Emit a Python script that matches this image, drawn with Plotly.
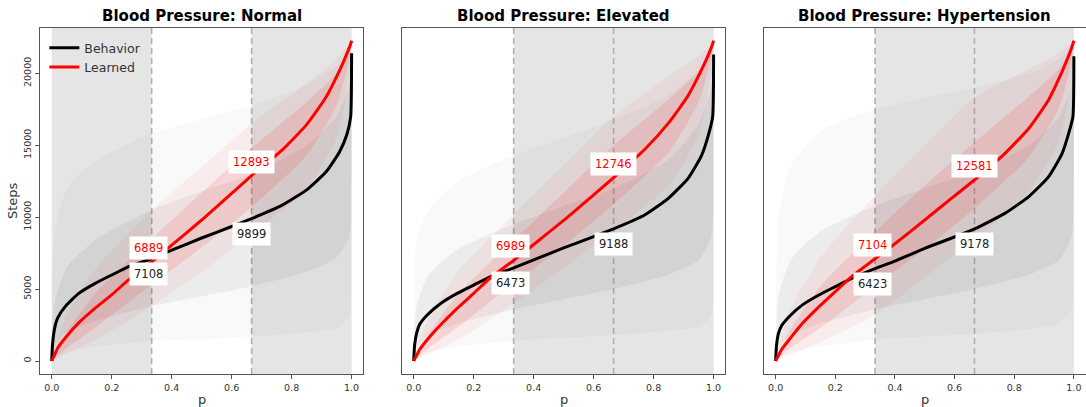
import plotly.graph_objects as go

# ---------------- data ----------------
P_MAIN = [0, 0.003, 0.01, 0.02, 0.045, 0.09, 0.145, 0.2, 0.255, 1/3, 0.4, 0.5, 0.6, 2/3,
          0.77, 0.85, 0.915, 0.96, 0.985, 0.997, 1.0]

BEH_NORMAL = [0, 1200, 2300, 3000, 3780, 4700, 5400, 5980, 6550, 7108, 7700, 8550, 9350, 9899,
              10850, 11900, 13150, 14550, 15800, 17000, 21400]
LRN_NORMAL = [0, 150, 450, 900, 1600, 2650, 3680, 4600, 5620, 6889, 8050, 9800, 11650, 12893,
              14700, 16430, 18350, 20200, 21400, 22050, 22270]

BEH_ELEVATED = [0, 1100, 1950, 2550, 3200, 4000, 4700, 5280, 5850, 6473, 7030, 7860, 8650, 9188,
                10150, 11330, 12700, 14300, 15900, 17000, 21300]
LRN_ELEVATED = [0, 130, 400, 800, 1480, 2520, 3660, 4700, 5770, 6989, 8100, 9770, 11550, 12746,
                14700, 16550, 18450, 20250, 21400, 22050, 22270]

BEH_HYPER = [0, 1100, 1950, 2450, 3080, 3900, 4590, 5170, 5750, 6423, 6950, 7830, 8620, 9178,
             10280, 11450, 12800, 14400, 16000, 17000, 21190]
LRN_HYPER = [0, 130, 400, 800, 1470, 2620, 3760, 4820, 5860, 7104, 8150, 9800, 11480, 12581,
             14450, 16200, 18150, 20100, 21350, 22050, 22270]

# envelope of the faint individual curves
P_BG = [0, 0.01, 0.05, 0.15, 1/3, 0.5, 2/3, 0.85, 0.95, 0.99, 0.997, 1.0]

BEH_NORMAL_OUT_LO = [0, 200, 600, 1000, 1400, 1500, 1700, 2000, 2300, 3000, 3500, 9000]
BEH_NORMAL_OUT_HI = [0, 9000, 12000, 14000, 15800, 16800, 17800, 19200, 20500, 21500, 21900, 22300]
BEH_NORMAL_IN_LO = [0, 1000, 2000, 2800, 3800, 4500, 5200, 6200, 7200, 8500, 9500, 14000]
BEH_NORMAL_IN_HI = [0, 4000, 6500, 8500, 10500, 11800, 13000, 15000, 17000, 19000, 20000, 22000]
LRN_NORMAL_OUT_LO = [0, 100, 500, 1500, 3800, 6200, 8800, 12000, 15500, 19500, 21500, 22270]
LRN_NORMAL_OUT_HI = [0, 800, 3200, 6500, 10500, 13500, 16500, 19300, 21000, 22000, 22200, 22270]
LRN_NORMAL_IN_LO = [0, 200, 900, 2400, 5300, 7900, 10700, 14300, 17800, 20800, 21900, 22270]
LRN_NORMAL_IN_HI = [0, 500, 2000, 4800, 8500, 11700, 14800, 18000, 20000, 21600, 22100, 22270]

BEH_ELEVATED_OUT_LO = [0, 200, 600, 1000, 1400, 1600, 1800, 2100, 2400, 3000, 3500, 9000]
BEH_ELEVATED_OUT_HI = [0, 8500, 10500, 12500, 14300, 15500, 16800, 18500, 20300, 21500, 21900, 22300]
BEH_ELEVATED_IN_LO = [0, 900, 1800, 2600, 3600, 4300, 5000, 6000, 7000, 8500, 9500, 14000]
BEH_ELEVATED_IN_HI = [0, 3800, 6000, 7800, 9500, 10800, 12000, 14000, 16500, 18800, 19800, 22000]
LRN_ELEVATED_OUT_LO = [0, 100, 500, 1500, 4000, 6500, 9000, 12200, 15700, 19600, 21500, 22270]
LRN_ELEVATED_OUT_HI = [0, 800, 3000, 6300, 10200, 13600, 17000, 19800, 21200, 22000, 22200, 22270]
LRN_ELEVATED_IN_LO = [0, 200, 900, 2400, 5400, 8000, 10900, 14500, 18000, 20900, 21900, 22270]
LRN_ELEVATED_IN_HI = [0, 500, 1900, 4700, 8400, 11700, 15000, 18200, 20100, 21600, 22100, 22270]

BEH_HYPER_OUT_LO = [0, 200, 600, 1000, 1500, 1700, 1900, 2200, 2600, 3500, 4000, 9000]
BEH_HYPER_OUT_HI = [0, 10000, 13500, 16000, 17500, 18300, 19000, 20000, 21000, 21700, 22000, 22300]
BEH_HYPER_IN_LO = [0, 900, 1800, 2600, 3600, 4300, 5000, 6000, 7000, 8500, 9500, 14000]
BEH_HYPER_IN_HI = [0, 4500, 7000, 9000, 10800, 12000, 13200, 15000, 17000, 19000, 20000, 22000]
LRN_HYPER_OUT_LO = [0, 100, 400, 1300, 3200, 5800, 8500, 11800, 15300, 19400, 21400, 22270]
LRN_HYPER_OUT_HI = [0, 900, 3600, 7200, 11500, 15000, 18300, 20300, 21400, 22100, 22200, 22270]
LRN_HYPER_IN_LO = [0, 200, 900, 2300, 5200, 7800, 10600, 14200, 17600, 20700, 21800, 22270]
LRN_HYPER_IN_HI = [0, 550, 2200, 5200, 9000, 12200, 15200, 18400, 20300, 21700, 22100, 22270]

TITLES = ["Blood Pressure: Normal", "Blood Pressure: Elevated", "Blood Pressure: Hypertension"]
SHADE_NORMAL = [(0, 1/3), (2/3, 1)]
SHADE_ELEVATED = [(1/3, 1)]
SHADE_HYPER = [(1/3, 1)]
MARK_P = [1/3, 2/3]
LBL_BEH_NORMAL = [7108, 9899]
LBL_LRN_NORMAL = [6889, 12893]
LBL_BEH_ELEVATED = [6473, 9188]
LBL_LRN_ELEVATED = [6989, 12746]
LBL_BEH_HYPER = [6423, 9178]
LBL_LRN_HYPER = [7104, 12581]
X_TICKS = [0.0, 0.2, 0.4, 0.6, 0.8, 1.0]
Y_TICKS = [0, 5000, 10000, 15000, 20000]

panels = [
    dict(title=TITLES[0], beh=BEH_NORMAL, lrn=LRN_NORMAL, shade=SHADE_NORMAL,
         lb=LBL_BEH_NORMAL, ll=LBL_LRN_NORMAL,
         bg=[BEH_NORMAL_OUT_LO, BEH_NORMAL_OUT_HI, BEH_NORMAL_IN_LO, BEH_NORMAL_IN_HI],
         rg=[LRN_NORMAL_OUT_LO, LRN_NORMAL_OUT_HI, LRN_NORMAL_IN_LO, LRN_NORMAL_IN_HI]),
    dict(title=TITLES[1], beh=BEH_ELEVATED, lrn=LRN_ELEVATED, shade=SHADE_ELEVATED,
         lb=LBL_BEH_ELEVATED, ll=LBL_LRN_ELEVATED,
         bg=[BEH_ELEVATED_OUT_LO, BEH_ELEVATED_OUT_HI, BEH_ELEVATED_IN_LO, BEH_ELEVATED_IN_HI],
         rg=[LRN_ELEVATED_OUT_LO, LRN_ELEVATED_OUT_HI, LRN_ELEVATED_IN_LO, LRN_ELEVATED_IN_HI]),
    dict(title=TITLES[2], beh=BEH_HYPER, lrn=LRN_HYPER, shade=SHADE_HYPER,
         lb=LBL_BEH_HYPER, ll=LBL_LRN_HYPER,
         bg=[BEH_HYPER_OUT_LO, BEH_HYPER_OUT_HI, BEH_HYPER_IN_LO, BEH_HYPER_IN_HI],
         rg=[LRN_HYPER_OUT_LO, LRN_HYPER_OUT_HI, LRN_HYPER_IN_LO, LRN_HYPER_IN_HI]),
]

# ---------------- layout geometry ----------------
W, H = 1086, 407
X_DOMAINS = [(40 / W, 363.3 / W), (402 / W, 725.3 / W), (764 / W, 1085.5 / W)]
Y_DOMAIN = (1 - 374 / H, 1 - 28 / H)
X_RANGE = [-0.039, 1.039]
Y_RANGE = [-904, 23149]
FONT = "DejaVu Sans"

fig = go.Figure()
layout = dict(
    width=W, height=H, margin=dict(l=0, r=0, t=0, b=0),
    paper_bgcolor="white", plot_bgcolor="white",
    font=dict(family=FONT, color="#333333"),
    legend=dict(x=40 / W + 0.004, y=1 - 33 / H, xanchor="left", yanchor="top",
                bgcolor="rgba(0,0,0,0)", font=dict(size=12.5, color="#333333"),
                traceorder="normal", tracegroupgap=0, itemwidth=30),
    shapes=[], annotations=[],
)

for i, pnl in enumerate(panels):
    n = "" if i == 0 else str(i + 1)
    xa, ya = "x" + n, "y" + n
    layout["xaxis" + n] = dict(
        domain=list(X_DOMAINS[i]), range=X_RANGE, anchor=ya,
        showgrid=False, zeroline=False, showline=True, mirror=True,
        linecolor="#555555", linewidth=1.3, ticks="outside", ticklen=4,
        tickcolor="#555555", tickvals=X_TICKS, ticktext=[f"{v:.1f}" for v in X_TICKS],
        tickfont=dict(size=9.5, color="#333333"))
    layout["yaxis" + n] = dict(
        domain=list(Y_DOMAIN), range=Y_RANGE, anchor=xa,
        showgrid=False, zeroline=False, showline=True, mirror=True,
        linecolor="#555555", linewidth=1.3,
        ticks="outside" if i == 0 else "", ticklen=4, tickcolor="#555555",
        tickvals=Y_TICKS, ticktext=[str(v) for v in Y_TICKS],
        showticklabels=(i == 0), tickangle=-90,
        tickfont=dict(size=9.5, color="#333333"))

    # shaded regions
    for (a, b) in pnl["shade"]:
        layout["shapes"].append(dict(type="rect", xref=xa, yref=ya + " domain",
                                     x0=a, x1=b, y0=0, y1=1, fillcolor="#e5e5e5",
                                     line=dict(width=0), layer="below"))
    # dashed markers
    for mp in MARK_P:
        layout["shapes"].append(dict(type="line", xref=xa, yref=ya + " domain",
                                     x0=mp, x1=mp, y0=0, y1=1,
                                     line=dict(color="#b0b0b0", width=1.6, dash="6px,4px"),
                                     layer="below"))

    # faint bundles (behavior grey, learned red)
    for (lo, hi, col) in [(pnl["bg"][0], pnl["bg"][1], "rgba(0,0,0,0.025)"),
                          (pnl["bg"][2], pnl["bg"][3], "rgba(0,0,0,0.05)"),
                          (pnl["rg"][0], pnl["rg"][1], "rgba(255,0,0,0.05)"),
                          (pnl["rg"][2], pnl["rg"][3], "rgba(255,0,0,0.1)")]:
        fig.add_trace(go.Scatter(x=P_BG, y=lo, mode="lines", line=dict(width=0, shape="spline", smoothing=0.6),
                                 xaxis=xa, yaxis=ya, showlegend=False, hoverinfo="skip"))
        fig.add_trace(go.Scatter(x=P_BG, y=hi, mode="lines", line=dict(width=0, shape="spline", smoothing=0.6),
                                 fill="tonexty", fillcolor=col,
                                 xaxis=xa, yaxis=ya, showlegend=False, hoverinfo="skip"))

    # mean curves
    fig.add_trace(go.Scatter(x=P_MAIN, y=pnl["beh"], mode="lines", name="Behavior",
                             line=dict(color="black", width=3, shape="spline", smoothing=0.5),
                             xaxis=xa, yaxis=ya, showlegend=(i == 0), legendrank=1))
    fig.add_trace(go.Scatter(x=P_MAIN, y=pnl["lrn"], mode="lines", name="Learned",
                             line=dict(color="red", width=3, shape="spline", smoothing=0.5),
                             xaxis=xa, yaxis=ya, showlegend=(i == 0), legendrank=2))

    # value labels
    for k, mp in enumerate(MARK_P):
        xs = -3 if k == 0 else 0
        layout["annotations"].append(dict(
            x=mp, y=pnl["ll"][k], xref=xa, yref=ya, text=str(pnl["ll"][k]), showarrow=False,
            font=dict(size=11.5, color="red", family=FONT), bgcolor="white",
            borderpad=4, xshift=xs, yshift=14))
        layout["annotations"].append(dict(
            x=mp, y=pnl["lb"][k], xref=xa, yref=ya, text=str(pnl["lb"][k]), showarrow=False,
            font=dict(size=11.5, color="#222222", family=FONT), bgcolor="white",
            borderpad=4, xshift=xs, yshift=-15))

    # title and x label
    xc = (X_DOMAINS[i][0] + X_DOMAINS[i][1]) / 2
    layout["annotations"].append(dict(
        x=xc, y=1 - 16 / H, xref="paper", yref="paper", text="<b>" + pnl["title"] + "</b>",
        showarrow=False, font=dict(size=15, color="black", family=FONT),
        xanchor="center", yanchor="middle"))
    layout["annotations"].append(dict(
        x=xc, y=1 - 399 / H, xref="paper", yref="paper", text="p",
        showarrow=False, font=dict(size=13, color="#333333", family=FONT),
        xanchor="center", yanchor="middle"))

layout["annotations"].append(dict(
    x=13 / W, y=1 - 201 / H, xref="paper", yref="paper", text="Steps", textangle=-90,
    showarrow=False, font=dict(size=13, color="#333333", family=FONT),
    xanchor="center", yanchor="middle"))

fig.update_layout(**layout)
fig.write_html("out.html")
